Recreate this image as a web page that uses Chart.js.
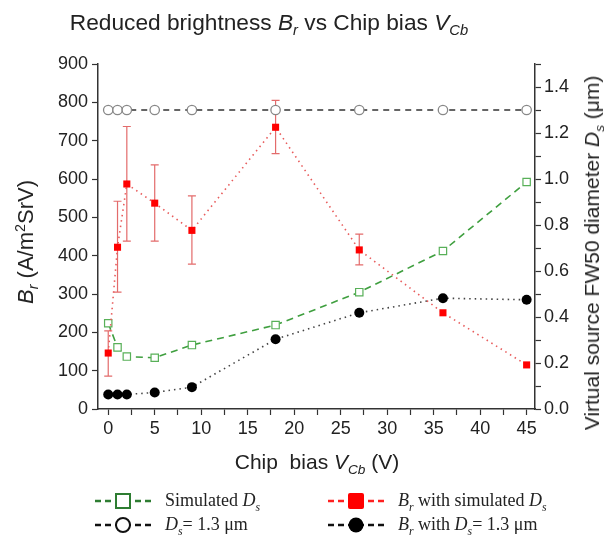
<!DOCTYPE html>
<html>
<head>
<meta charset="utf-8">
<script src="https://cdn.jsdelivr.net/npm/chart.js@4.4.1/dist/chart.umd.min.js"></script>
<style>
  body { margin: 0; background: #fff; }
  #wrap { position: relative; width: 605px; height: 539px; font-family: "Liberation Sans", Arial, sans-serif; color: #222; }
  #chart { position: absolute; left: 0; top: 0; }
  .lbl { position: absolute; white-space: nowrap; }
  .rot { transform: translate(-50%, -50%) rotate(-90deg); }
  .ctr { transform: translate(-50%, -50%); }
  sub, sup { font-size: 65%; line-height: 0; }
  .leg { position: absolute; font-family: "Liberation Serif", "Times New Roman", serif; font-size: 18px; white-space: nowrap; display: flex; align-items: center; }
  .leg svg { margin-right: 14px; }
</style>
</head>
<body>
<div id="wrap">
  <canvas id="chart" width="605" height="539"></canvas>
  <div class="lbl ctr" style="left:269px;top:22px;font-size:22.7px;">Reduced brightness <i>B</i><sub><i>r</i></sub> vs Chip bias <i>V</i><sub><i>Cb</i></sub></div>
  <div class="lbl rot" style="left:26px;top:242px;font-size:22px;"><i>B</i><sub><i>r</i></sub> (A/m<sup>2</sup>SrV)</div>
  <div class="lbl rot" style="left:592px;top:253px;font-size:21px;">Virtual source FW50 diameter <i>D</i><sub><i>s</i></sub> (&mu;m)</div>
  <div class="lbl ctr" style="left:317px;top:462px;font-size:21px;">Chip&nbsp; bias <i>V</i><sub><i>Cb</i></sub> (V)</div>

  <div class="leg" style="left:95px;top:490px;">
    <svg width="56" height="20"><line x1="0" y1="10" x2="56" y2="10" stroke="#2e7d32" stroke-width="2.5" stroke-dasharray="6,4"/><rect x="21" y="3" width="14" height="14" fill="#fff" stroke="#2e7d32" stroke-width="2"/></svg>
    <span>Simulated <i>D</i><sub><i>s</i></sub></span>
  </div>
  <div class="leg" style="left:95px;top:514px;">
    <svg width="56" height="20"><line x1="0" y1="10" x2="56" y2="10" stroke="#111" stroke-width="2.5" stroke-dasharray="6,4"/><circle cx="28" cy="10" r="7" fill="#fff" stroke="#111" stroke-width="2"/></svg>
    <span><i>D</i><sub><i>s</i></sub>= 1.3 &mu;m</span>
  </div>
  <div class="leg" style="left:328px;top:490px;">
    <svg width="56" height="20"><line x1="0" y1="10" x2="56" y2="10" stroke="#ff2020" stroke-width="2.5" stroke-dasharray="6,4"/><rect x="20" y="2" width="16" height="16" rx="2" fill="#ff0000"/></svg>
    <span><i>B</i><sub><i>r</i></sub> with simulated <i>D</i><sub><i>s</i></sub></span>
  </div>
  <div class="leg" style="left:328px;top:514px;">
    <svg width="56" height="20"><line x1="0" y1="10" x2="56" y2="10" stroke="#111" stroke-width="2.5" stroke-dasharray="6,4"/><circle cx="28" cy="10" r="7.5" fill="#000"/></svg>
    <span><i>B</i><sub><i>r</i></sub> with <i>D</i><sub><i>s</i></sub>= 1.3 &mu;m</span>
  </div>
</div>
<script>
'use strict';

// Chip bias values (V)
const chipBias = [0, 1, 2, 5, 9, 18, 27, 36, 45];

// Reduced brightness with simulated Ds (left axis) and its error bars
const brSimulated = [146, 422, 587, 537, 466, 735, 415, 251, 115];
const brErrLow = [86, 305, 438, 438, 378, 666, 376, null, null];
const brErrHigh = [204, 542, 737, 637, 556, 805, 456, null, null];

// Reduced brightness with Ds = 1.3 um (left axis)
const brFixedDs = [38, 38, 38, 43, 57, 182, 251, 289, 285];

// Virtual source diameter (right axis, um)
const dsSimulated = [0.373, 0.268, 0.228, 0.223, 0.278, 0.365, 0.508, 0.687, 0.987];
const dsFixed = [1.3, 1.3, 1.3, 1.3, 1.3, 1.3, 1.3, 1.3, 1.3];

// tick labels
const xTickLabels = ['0', '5', '10', '15', '20', '25', '30', '35', '40', '45'];
const rightTickLabels = ['0.0', '0.2', '0.4', '0.6', '0.8', '1.0', '1.2', '1.4'];

function toPoints(ys) {
  let pts = [];
  for (let i = 0; i < chipBias.length; i++) {
    pts.push({ x: chipBias[i], y: ys[i] });
  }
  return pts;
}

// draws the vertical error bars of the red series
const errorBars = {
  id: 'errorBars',
  beforeDatasetsDraw(chart) {
    let ctx = chart.ctx;
    let xs = chart.scales.x;
    let ys = chart.scales.y;
    ctx.save();
    ctx.strokeStyle = '#e36b6b';
    ctx.lineWidth = 1.2;
    for (let i = 0; i < chipBias.length; i++) {
      if (brErrLow[i] == null) continue;
      let px = xs.getPixelForValue(chipBias[i]);
      let top = ys.getPixelForValue(brErrHigh[i]);
      let bot = ys.getPixelForValue(brErrLow[i]);
      ctx.beginPath();
      ctx.moveTo(px, top); ctx.lineTo(px, bot);
      ctx.moveTo(px - 4, top); ctx.lineTo(px + 4, top);
      ctx.moveTo(px - 4, bot); ctx.lineTo(px + 4, bot);
      ctx.stroke();
    }
    ctx.restore();
  }
};

const tickFont = { family: '"Liberation Sans", Arial, sans-serif', size: 18 };

let config = {
  type: 'line',
  data: {
    datasets: [{
      label: 'Br with simulated Ds',
      data: toPoints(brSimulated),
      yAxisID: 'y',
      borderColor: '#e85c5c',
      borderWidth: 1.6,
      borderDash: [1.5, 4],
      pointStyle: 'rect',
      pointRadius: 5,
      pointBackgroundColor: '#ff0000',
      pointBorderColor: '#ff0000',
      pointBorderWidth: 0
    }, {
      label: 'Br with Ds = 1.3 um',
      data: toPoints(brFixedDs),
      yAxisID: 'y',
      borderColor: '#444',
      borderWidth: 1.6,
      borderDash: [1.5, 4],
      pointStyle: 'circle',
      pointRadius: 5,
      pointBackgroundColor: '#000',
      pointBorderColor: '#000',
      pointBorderWidth: 0
    }, {
      label: 'Simulated Ds',
      data: toPoints(dsSimulated),
      yAxisID: 'y1',
      borderColor: '#3f9f3f',
      borderWidth: 1.6,
      borderDash: [7, 5],
      pointStyle: 'rect',
      pointRadius: 5.2,
      pointBackgroundColor: '#fff',
      pointBorderColor: '#58b058',
      pointBorderWidth: 1.2
    }, {
      label: 'Ds = 1.3 um',
      data: toPoints(dsFixed),
      yAxisID: 'y1',
      borderColor: '#333',
      borderWidth: 1.4,
      borderDash: [6, 5],
      pointStyle: 'circle',
      pointRadius: 4.7,
      pointBackgroundColor: '#fff',
      pointBorderColor: '#888',
      pointBorderWidth: 1.3
    }]
  },
  options: {
    responsive: false,
    animation: false,
    layout: { padding: { top: 64, left: 0, right: 0, bottom: 0 } },
    plugins: {
      legend: { display: false },
      tooltip: { enabled: false }
    },
    scales: {
      x: {
        type: 'linear',
        min: -1.1,
        max: 45.9,
        afterFit(scale) { scale.height = 130; },
        border: { color: '#333', width: 1.5 },
        grid: { drawOnChartArea: false, tickLength: 6, color: '#333', tickWidth: 1.2 },
        ticks: {
          stepSize: 2.5,
          includeBounds: false,
          autoSkip: false,
          maxRotation: 0,
          padding: 3,
          color: '#222',
          font: tickFont,
          callback: function (v) {
            let idx = xTickLabels.indexOf(String(v));
            return idx >= 0 ? xTickLabels[idx] : '';
          }
        }
      },
      y: {
        position: 'left',
        min: 0,
        max: 900,
        afterFit(scale) { scale.width = 98; },
        border: { color: '#333', width: 1.5 },
        grid: { drawOnChartArea: false, tickLength: 6, color: '#333', tickWidth: 1.2 },
        ticks: { stepSize: 100, padding: 4, color: '#222', font: tickFont }
      },
      y1: {
        position: 'right',
        min: 0,
        max: 1.5,
        afterFit(scale) { scale.width = 70; },
        border: { color: '#333', width: 1.5 },
        grid: { drawOnChartArea: false, tickLength: 6, color: '#333', tickWidth: 1.2 },
        ticks: {
          stepSize: 0.1,
          autoSkip: false,
          padding: 3,
          color: '#222',
          font: tickFont,
          callback: function (v) {
            let k = Math.round(v * 10);
            return k % 2 === 0 ? rightTickLabels[k / 2] : '';
          }
        }
      }
    }
  },
  plugins: [errorBars]
};

new Chart(document.getElementById('chart'), config);
</script>
</body>
</html>
